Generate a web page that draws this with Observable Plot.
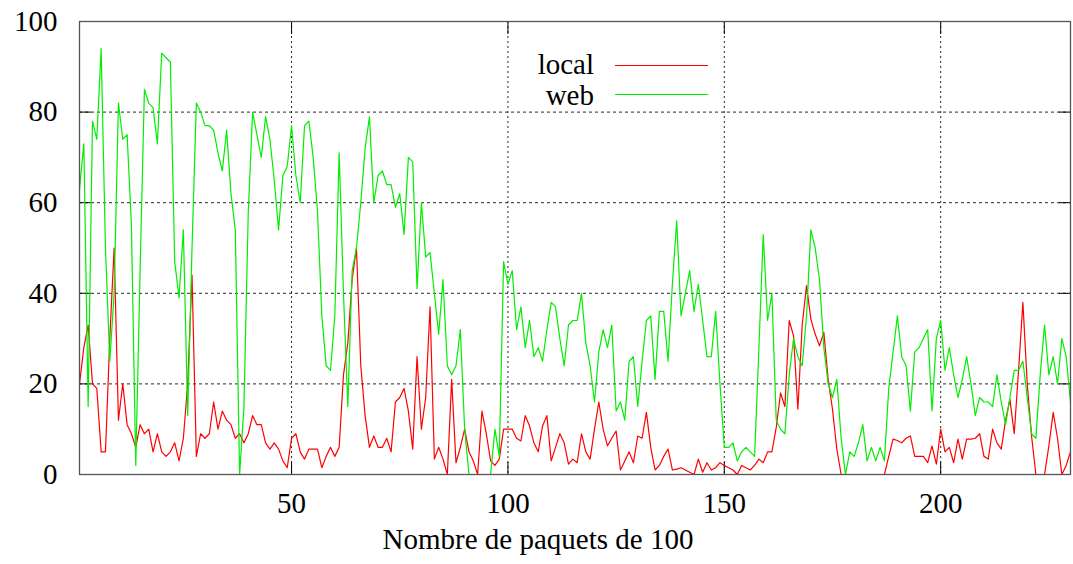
<!DOCTYPE html>
<html>
<head>
<meta charset="utf-8">
<script src="https://cdn.jsdelivr.net/npm/d3@7"></script>
<script src="https://cdn.jsdelivr.net/npm/@observablehq/plot@0.6"></script>
<style>
  html, body { margin: 0; padding: 0; background: #fff; }
  #wrap { position: relative; width: 1073px; height: 564px; font-family: "Liberation Serif", "DejaVu Serif", serif; }
  .leg { position: absolute; font-size: 29px; color: #000; line-height: 1; }
  .leg .lab { position: absolute; right: 0; white-space: nowrap; }
  .sw { position: absolute; height: 0; border-top: 1.3px solid; }
</style>
</head>
<body>
<div id="wrap"></div>
<script>
// Values (x = 1..230)
const seriesNames = ["local", "web"];
const seriesColors = ["#ff0000", "#00ee00"];

const local = [
  20, 28, 33, 20, 19, 5, 5, 30, 50, 12,
  20, 11, 9, 6, 11, 9, 10, 5, 9, 5,
  4, 5, 7, 3, 8, 20, 44, 4, 9, 8,
  9, 16, 10, 14, 12, 11, 8, 9, 7, 9,
  13, 11, 11, 7, 5.6, 7, 5.6, 3, 1.5, 8,
  9, 5, 3.4, 5.6, 5.6, 5.6, 1.5, 4, 6, 4,
  6, 22, 29, 43, 50, 24, 13, 6, 8.5, 6,
  6, 8, 5, 16, 17, 19, 14, 5.6, 26, 10,
  17, 37, 3.4, 6, 3.4, 0, 21, 2.6, 6, 10,
  5, 3, 0, 14, 9, 3, 2, 3.4, 10, 10,
  10, 8, 7.4, 13, 10.7, 7, 5, 10.7, 13, 3,
  6, 9, 7, 2.3, 3.4, 2.6, 9, 5, 3.4, 10,
  16, 10, 6.3, 8, 9.6, 1, 3, 5, 2.6, 8.5,
  8, 13.7, 6, 1, 2, 4, 5.6, 1, 1.2, 1.5,
  1, 0.5, 0, 3.4, 0.5, 2.6, 1, 1.5, 2.6, 2,
  1.5, 1, 0, 2, 1.5, 1, 2, 3.4, 2.6, 5,
  5, 10.4, 18, 15, 34, 30.6, 14.4, 33, 41.7, 34.3,
  31, 28.4, 31.4, 21, 14.4, 5.6, 0, 0, 0, 0,
  0, 0, 0, 0, 0, 0, 0, 4, 7.8, 7.5,
  7, 8, 8.5, 4, 4, 4, 2.6, 6.3, 2.3, 10,
  5, 6, 2.6, 7.8, 3.4, 7.8, 7.8, 8, 9, 4,
  3.4, 10, 7, 5.6, 12, 16.6, 9, 23, 38, 20,
  8.5, 0, 0, 0, 6.3, 13.7, 8, 0, 2, 5
];

const web = [
  63, 73, 15, 78, 74, 94, 50, 25, 40, 82,
  74, 75, 55, 2, 45, 85, 82, 81, 73, 93,
  92, 91, 47, 39, 54, 13, 50, 82, 80, 77,
  77, 76, 71, 67, 76, 62, 54, 0, 15, 58,
  80, 75, 70, 79, 74, 65, 54, 66, 68, 77,
  66, 60, 77, 78, 70, 58, 35, 24, 23, 35,
  71, 40, 15, 45, 50, 60, 72, 79, 60, 66,
  67, 64, 64, 59, 62, 53, 70, 69, 41, 60,
  48, 49, 40, 31, 43, 24, 22, 24, 32, 10,
  0, 0, 0, 0, 0, 0, 10, 4, 47, 42,
  45, 32, 37, 28, 34, 26, 28, 25, 32, 38,
  37, 30, 24, 33, 34, 34, 40, 29, 24, 16,
  27, 32, 28, 33, 14, 16, 12, 25, 26, 15,
  25, 34, 35, 21, 36, 36, 25, 42, 56, 35,
  40, 45, 36, 42, 34, 26, 26, 36, 20, 6,
  6, 7, 3, 5, 6, 5, 4, 28, 53, 34,
  40, 12, 10, 9, 22, 30, 26, 24, 35, 54,
  50, 43, 28, 20, 17, 21, 8, 0, 5, 4,
  7, 11, 3, 6, 3, 6, 3, 19, 27, 35,
  26, 24, 14, 27, 28, 30, 32, 14, 30, 34,
  23, 28, 22, 17, 21, 26, 20, 13, 17, 16,
  16, 15, 22, 16, 11, 17, 23, 23, 25, 17,
  9, 8, 22, 33, 22, 26, 20, 30, 26, 16
];

const xTicks = [50, 100, 150, 200];
const yTicks = [0, 20, 40, 60, 80, 100];
const xLabel = "Nombre de paquets de 100";

const rows = [];
[local, web].forEach((arr, s) => arr.forEach((v, i) => rows.push({x: i + 1, y: v, series: seriesNames[s]})));

const FONT = "Liberation Serif";
const FS = 29;

const chart = Plot.plot({
  width: 1073,
  height: 564,
  marginLeft: 79,
  marginRight: 3,
  marginTop: 21,
  marginBottom: 90,
  style: {fontFamily: FONT, fontSize: FS + "px", background: "#fff", color: "#000"},
  x: {domain: [1, 230], ticks: xTicks},
  y: {domain: [0, 100], ticks: yTicks},
  color: {domain: seriesNames, range: seriesColors},
  marks: [
    Plot.gridY([20, 40, 60, 80], {stroke: "#000", strokeOpacity: 0.85, strokeDasharray: "3,3", strokeWidth: 1}),
    Plot.gridX(xTicks, {stroke: "#000", strokeOpacity: 0.85, strokeDasharray: "2,3", strokeWidth: 1}),
    Plot.axisY(yTicks, {anchor: "left", tickSize: -12, text: null, stroke: "#000", label: null}),
    Plot.axisY(yTicks, {anchor: "right", tickSize: -12, text: null, stroke: "#000", label: null}),
    Plot.axisX(xTicks, {anchor: "bottom", tickSize: -12, text: null, stroke: "#000", label: null}),
    Plot.axisX(xTicks, {anchor: "top", tickSize: -12, text: null, stroke: "#000", label: null}),
    Plot.axisY(yTicks, {anchor: "left", tickSize: 0, tickPadding: 22, fontSize: FS, label: null}),
    Plot.axisX(xTicks, {anchor: "bottom", tickSize: 0, tickPadding: 18, fontSize: FS, label: null}),
    Plot.line(rows, {x: "x", y: "y", z: "series", stroke: "series", strokeWidth: 1.2}),
    Plot.frame({stroke: "#555", strokeWidth: 1.3}),
    Plot.text([xLabel], {frameAnchor: "bottom", text: d => d, dy: 74, dx: -37, fontSize: FS, fill: "#000"})
  ]
});

const wrap = document.getElementById("wrap");
wrap.appendChild(chart);

// Legend inside the plot area (top, centered)
const legendTop = [50, 81];
seriesNames.forEach((name, i) => {
  const lab = document.createElement("div");
  lab.className = "leg";
  lab.style.left = "450px";
  lab.style.width = "144px";
  lab.style.top = legendTop[i] + "px";
  lab.style.height = "29px";
  const span = document.createElement("span");
  span.className = "lab";
  span.textContent = name;
  lab.appendChild(span);
  wrap.appendChild(lab);
  const sw = document.createElement("div");
  sw.className = "sw";
  sw.style.left = "615px";
  sw.style.width = "93px";
  sw.style.top = (i === 0 ? 65 : 94) + "px";
  sw.style.borderTopColor = seriesColors[i];
  wrap.appendChild(sw);
});
</script>
</body>
</html>
